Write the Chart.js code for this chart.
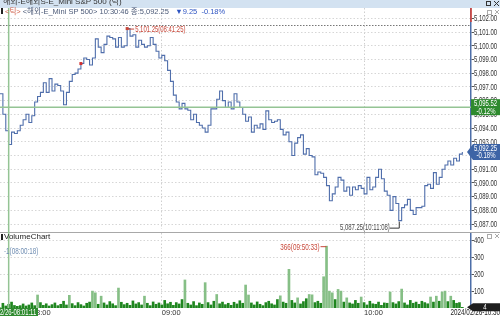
<!DOCTYPE html>
<html>
<head>
<meta charset="utf-8">
<script src="https://cdn.jsdelivr.net/npm/chart.js@4.4.1/dist/chart.umd.min.js"></script>
<style>
  html, body { margin: 0; padding: 0; background: #fff; }
  #wrap { position: relative; width: 500px; height: 316px; overflow: hidden; }
  #priceChart { position: absolute; left: 0; top: 0; }
  #volChart { position: absolute; left: 0; top: 232px; }
</style>
</head>
<body>
<div id="wrap">
  <canvas id="priceChart" width="500" height="232"></canvas>
  <canvas id="volChart" width="500" height="84"></canvas>
</div>
<script>
// tick prices (one sample every few ticks)
var prices = [
  5096.5, 5095.0, 5093.8, 5092.8, 5093.7, 5093.6, 5093.8, 5094.2, 5094.6, 5095.0,
  5094.4, 5094.9, 5095.9, 5096.3, 5096.6, 5097.3, 5096.6, 5097.6, 5096.7, 5097.2,
  5097.1, 5096.7, 5095.7, 5096.6, 5097.4, 5097.9, 5098.0, 5098.3, 5098.7, 5099.1,
  5099.0, 5098.6, 5099.1, 5100.5, 5099.9, 5099.5, 5100.1, 5100.7, 5100.6, 5100.5,
  5099.9,
  5100.6, 5099.9, 5100.0, 5101.25, 5100.7, 5100.8, 5099.9, 5100.4, 5100.1, 5099.9,
  5100.0, 5100.6, 5100.1, 5099.6, 5099.1, 5099.3, 5098.9, 5098.2, 5097.4, 5096.4,
  5095.9, 5095.4, 5095.8, 5095.4, 5095.3, 5094.6, 5095.0, 5094.4, 5094.2, 5094.0,
  5093.7, 5094.2, 5095.4, 5095.4, 5096.1, 5096.7, 5096.0, 5095.5, 5095.9, 5095.4,
  5096.5,
  5095.9, 5095.5, 5095.0, 5094.5, 5094.8, 5093.7, 5094.2, 5094.0, 5094.3, 5093.9,
  5095.25, 5094.6, 5094.4, 5094.5, 5094.6, 5093.9, 5093.5, 5093.7, 5093.0, 5092.0,
  5092.9, 5093.3, 5093.5, 5092.1, 5092.5, 5092.0, 5091.9, 5090.6, 5090.8, 5090.7,
  5090.4, 5089.8, 5088.7, 5089.2, 5089.7, 5090.4, 5090.2, 5089.4,
  5089.7, 5089.1, 5089.7, 5089.5, 5089.8, 5089.6, 5089.2, 5090.4, 5089.5, 5089.7,
  5090.4, 5091.0, 5090.3, 5089.4, 5089.1, 5088.0, 5089.0, 5088.5, 5087.25, 5088.2,
  5088.4, 5088.8, 5088.0, 5087.7, 5088.2, 5088.2, 5088.3, 5089.8, 5089.9, 5089.6,
  5090.75, 5089.9, 5090.4, 5091.0, 5091.3, 5091.6, 5091.3, 5091.8, 5091.6, 5092.1,
  5092.25
];

// volume per sample
var volumes = [
  1, 28, 12, 22, 35, 15, 10, 14, 24, 12,
  18, 30, 14, 77, 32, 16, 25, 12, 20, 30,
  14, 22, 40, 18, 75, 26, 14, 32, 20, 12,
  28, 35, 100, 90, 22, 70, 30, 18, 38, 25,
  14, 118, 34, 20, 28, 16, 42, 24, 32, 18,
  70, 28, 14, 36, 22, 30, 18, 45, 25, 34,
  16, 32, 24, 50, 166, 28, 18, 38, 14, 30,
  22, 150, 32, 18, 40, 80, 25, 35, 20, 28,
  16, 34, 24, 43, 28, 136, 77, 30, 18, 36,
  22, 14, 32, 40, 25, 18, 50, 72, 35, 28,
  229, 45, 30, 60, 24, 38, 55, 80, 78, 32,
  40, 28, 185, 366, 100, 90, 50, 110, 100, 35,
  60, 30, 24, 45, 28, 65, 32, 18, 40, 25,
  22, 35, 16, 30, 28, 95, 32, 24, 38, 112,
  30, 18, 45, 28, 35, 22, 40, 32, 25, 65,
  35, 70, 40, 95, 100, 38, 70, 45, 28, 32,
  4
];

var slotCount = 164;              // x slots, the last few still empty
var timeTickIdx = [11, 56, 126];
var timeTickText = ['08:00', '09:00', '10:00'];
var priceTicks = [5087, 5088, 5089, 5090, 5091, 5092, 5093, 5094, 5095, 5096, 5097, 5098, 5099, 5100, 5101, 5102];
var volTicks = [100, 200, 300, 400];

var prevClose = 5101.50;
var cursorIdx = 3;
var cursorPrice = 5095.52;
var cursorTime = '2/26-08:01:11';
var markIdx = 28;
var highTime = '08:41:25', lowTime = '10:11:08', volMaxTime = '09:50:33', volMinTime = '08:00:18';
var lastTime = '10:30:46';
var endStamp = '2024/02/26-10:30';

var FONT = "'Liberation Sans', 'Noto Sans CJK KR', sans-serif";

var slots = [];
for (var i = 0; i < slotCount; i++) slots.push(String(i));

function fmt(v) {
  return v.toLocaleString('en-US', {minimumFractionDigits: 2, maximumFractionDigits: 2});
}
function pct(v) {
  return ((v - prevClose) / prevClose * 100).toFixed(2) + '%';
}
// the HTS font is narrow, squeeze Liberation Sans to match
function narrowText(ctx, text, x, y, align, size) {
  ctx.save();
  ctx.font = (size || 8.5) + 'px ' + FONT;
  ctx.textBaseline = 'middle';
  ctx.textAlign = align;
  ctx.translate(x, y);
  ctx.scale(0.7, 1);
  ctx.fillText(text, 0, 0);
  ctx.restore();
}

var hiIdx = prices.indexOf(Math.max.apply(null, prices));
var loIdx = prices.indexOf(Math.min.apply(null, prices));
var vMaxIdx = volumes.indexOf(Math.max.apply(null, volumes));
var lastPrice = prices[prices.length - 1];

function timeAxisTicks(scale) {
  scale.ticks = timeTickIdx.map(function (v) { return {value: v}; });
}
function axisLabels(chart, fmtFn) {
  var ctx = chart.ctx, y = chart.scales.y, a = chart.chartArea;
  ctx.fillStyle = '#333';
  y.ticks.forEach(function (t) {
    narrowText(ctx, fmtFn(t.value), a.right + 3, y.getPixelForValue(t.value) + 0.5, 'left');
  });
}

var priceDecor = {
  id: 'priceDecor',
  beforeDatasetsDraw: function (chart) {
    var ctx = chart.ctx, a = chart.chartArea, y = chart.scales.y;
    ctx.save();
    ctx.strokeStyle = '#777';
    ctx.setLineDash([1.5, 1.5]);
    ctx.lineWidth = 1;
    var py = Math.round(y.getPixelForValue(prevClose)) + 0.5;
    ctx.beginPath(); ctx.moveTo(a.left, py); ctx.lineTo(a.right, py); ctx.stroke();
    ctx.restore();
  },
  afterDraw: function (chart) {
    var ctx = chart.ctx, a = chart.chartArea, x = chart.scales.x, y = chart.scales.y;
    ctx.save();
    axisLabels(chart, fmt);

    // crosshair
    ctx.strokeStyle = '#94c494';
    ctx.lineWidth = 1.5;
    var cx = x.getPixelForValue(cursorIdx), cy = y.getPixelForValue(cursorPrice);
    ctx.beginPath(); ctx.moveTo(cx, a.top); ctx.lineTo(cx, chart.height); ctx.stroke();
    ctx.beginPath(); ctx.moveTo(a.left, cy); ctx.lineTo(a.right, cy); ctx.stroke();

    // high
    var hx = x.getPixelForValue(hiIdx), hy = y.getPixelForValue(prices[hiIdx]);
    ctx.strokeStyle = '#c8483a'; ctx.fillStyle = '#c8483a'; ctx.lineWidth = 1;
    ctx.fillRect(hx - 1.5, hy - 1.5, 3, 3);
    ctx.beginPath(); ctx.moveTo(hx, hy + 0.5); ctx.lineTo(hx + 7, hy + 0.5); ctx.stroke();
    narrowText(ctx, fmt(prices[hiIdx]) + '(' + highTime + ')', hx + 8, hy + 1, 'left');

    // low
    var lx = x.getPixelForValue(loIdx), ly = y.getPixelForValue(prices[loIdx]);
    ctx.strokeStyle = '#333'; ctx.fillStyle = '#4a4a4a';
    ctx.beginPath(); ctx.moveTo(lx - 9, ly + 7.5); ctx.lineTo(lx + 0.5, ly + 7.5); ctx.lineTo(lx + 0.5, ly + 1); ctx.stroke();
    narrowText(ctx, fmt(prices[loIdx]) + '(' + lowTime + ')', lx - 9, ly + 7.5, 'right');

    // red marker
    ctx.fillStyle = '#d03030';
    ctx.fillRect(x.getPixelForValue(markIdx) - 1.5, y.getPixelForValue(prices[markIdx]) - 1.5, 3, 3);

    // red top of the axis
    ctx.strokeStyle = '#e04030'; ctx.lineWidth = 1.5;
    ctx.beginPath(); ctx.moveTo(a.right, a.top); ctx.lineTo(a.right, a.top + 14); ctx.stroke();

    // cursor price box
    ctx.fillStyle = '#2e8a2e';
    ctx.fillRect(a.right, cy - 8, chart.width - a.right, 16);
    ctx.fillStyle = '#fff';
    narrowText(ctx, fmt(cursorPrice), a.right + 3, cy - 3.5, 'left');
    narrowText(ctx, pct(cursorPrice), a.right + 15, cy + 4, 'center');

    // last price box
    var ly2 = y.getPixelForValue(lastPrice);
    ctx.fillStyle = '#3d64a6';
    ctx.beginPath();
    ctx.moveTo(a.right - 4, ly2); ctx.lineTo(a.right + 2, ly2 - 8); ctx.lineTo(chart.width, ly2 - 8);
    ctx.lineTo(chart.width, ly2 + 8); ctx.lineTo(a.right + 2, ly2 + 8); ctx.closePath(); ctx.fill();
    ctx.fillStyle = '#fff';
    narrowText(ctx, fmt(lastPrice), a.right + 3, ly2 - 3.5, 'left');
    narrowText(ctx, pct(lastPrice), a.right + 15, ly2 + 4, 'center');

    // title bar
    ctx.fillStyle = '#d3e2f1';
    ctx.fillRect(0, 0, chart.width, 8);
    ctx.save();
    ctx.beginPath(); ctx.rect(0, 0, chart.width, 8); ctx.clip();
    ctx.fillStyle = '#333'; ctx.font = '8px ' + FONT; ctx.textBaseline = 'alphabetic';
    ctx.fillText('해외-E해외S-E_Mini S&P 500 (틱)', 3, 4);
    ctx.restore();
    ctx.strokeStyle = '#333'; ctx.lineWidth = 1;
    ctx.strokeRect(486.5, 1.5, 4, 4);
    ctx.beginPath(); ctx.moveTo(494, 1); ctx.lineTo(499, 6); ctx.moveTo(499, 1); ctx.lineTo(494, 6); ctx.stroke();
    ctx.strokeStyle = '#aaa';
    ctx.strokeRect(487.5, 10.5, 4, 4);
    ctx.beginPath(); ctx.moveTo(495, 10); ctx.lineTo(499, 14); ctx.moveTo(499, 10); ctx.lineTo(495, 14); ctx.stroke();

    // info line
    ctx.fillStyle = '#222'; ctx.fillRect(1, 8, 2, 6);
    var parts = [
      ['<틱> ', '#d0604a'],
      ['<해외-E_Mini SP 500> ' + lastTime + ' 종:' + fmt(lastPrice) + '   ', '#4d5b78'],
      ['▼' + (prevClose - lastPrice).toFixed(2) + '  ' + pct(lastPrice), '#2f55c2']
    ];
    ctx.font = '7.5px ' + FONT; ctx.textBaseline = 'middle'; ctx.textAlign = 'left';
    var tx = 5;
    parts.forEach(function (p) {
      ctx.fillStyle = p[1];
      ctx.fillText(p[0], tx, 11.5);
      tx += ctx.measureText(p[0]).width;
    });
    ctx.restore();
  }
};

var volDecor = {
  id: 'volDecor',
  afterDraw: function (chart) {
    var ctx = chart.ctx, a = chart.chartArea, x = chart.scales.x, y = chart.scales.y;
    ctx.save();
    axisLabels(chart, String);
    ctx.strokeStyle = '#a8a8a8'; ctx.lineWidth = 1;
    ctx.beginPath(); ctx.moveTo(0, 0.5); ctx.lineTo(chart.width, 0.5); ctx.stroke();

    // crosshair
    ctx.strokeStyle = '#94c494'; ctx.lineWidth = 1.5;
    var cx = x.getPixelForValue(cursorIdx);
    ctx.beginPath(); ctx.moveTo(cx, 0); ctx.lineTo(cx, a.bottom); ctx.stroke();

    ctx.fillStyle = '#222'; ctx.fillRect(1, 2, 2, 6);
    ctx.font = '8px ' + FONT; ctx.textBaseline = 'middle'; ctx.textAlign = 'left';
    ctx.fillText('VolumeChart', 4, 5);

    // min volume note
    ctx.fillStyle = '#6f8db2';
    narrowText(ctx, '-' + volumes[0] + '(' + volMinTime + ')', 4, 20, 'left', 9);

    // max volume note
    var mx = x.getPixelForValue(vMaxIdx), my = y.getPixelForValue(volumes[vMaxIdx]);
    ctx.fillStyle = '#c8483a'; ctx.strokeStyle = '#c8483a'; ctx.lineWidth = 1;
    narrowText(ctx, volumes[vMaxIdx] + '(' + volMaxTime + ')', mx - 7, my + 1, 'right', 9);
    ctx.beginPath(); ctx.moveTo(mx - 6, my + 0.5); ctx.lineTo(mx, my + 0.5); ctx.stroke();

    // current volume box
    var vy = y.getPixelForValue(volumes[volumes.length - 1]);
    ctx.fillStyle = '#1e1e1e';
    ctx.beginPath();
    ctx.moveTo(a.right - 4, vy); ctx.lineTo(a.right + 2, vy - 4); ctx.lineTo(chart.width, vy - 4);
    ctx.lineTo(chart.width, vy + 4); ctx.lineTo(a.right + 2, vy + 4); ctx.closePath(); ctx.fill();
    ctx.fillStyle = '#fff';
    narrowText(ctx, String(volumes[volumes.length - 1]), a.right + 14, vy, 'center');

    // bottom stamps
    ctx.fillStyle = '#2e8a2e';
    ctx.fillRect(0, a.bottom, 38, chart.height - a.bottom);
    ctx.fillStyle = '#fff';
    narrowText(ctx, cursorTime, 0, a.bottom + 4.5, 'left');
    ctx.fillStyle = '#222';
    narrowText(ctx, endStamp, chart.width, a.bottom + 4.5, 'right', 9);

    ctx.strokeStyle = '#aaa';
    ctx.strokeRect(487.5, 2.5, 4, 4);
    ctx.beginPath(); ctx.moveTo(495, 2); ctx.lineTo(499, 6); ctx.moveTo(499, 2); ctx.lineTo(495, 6); ctx.stroke();
    ctx.restore();
  }
};

var gridColor = function (c) { return c.tick && c.tick.value === timeTickIdx[0] ? 'rgba(0,0,0,0)' : '#cfcfcf'; };

new Chart(document.getElementById('priceChart'), {
  type: 'line',
  data: {
    labels: slots,
    datasets: [{
      data: prices,
      borderColor: '#4f6eab',
      borderWidth: 1.1,
      stepped: true,
      pointRadius: 0,
      fill: false
    }]
  },
  options: {
    responsive: false,
    animation: false,
    events: [],
    layout: {padding: {left: 0, right: 0, top: 8, bottom: 3}},
    plugins: {legend: {display: false}, tooltip: {enabled: false}},
    scales: {
      x: {
        offset: false,
        afterBuildTicks: timeAxisTicks,
        ticks: {display: false},
        grid: {color: gridColor, drawTicks: false},
        border: {display: false, dash: [1.5, 2]}
      },
      y: {
        position: 'right',
        min: 5086.64,
        max: 5102.75,
        afterBuildTicks: function (s) { s.ticks = priceTicks.map(function (v) { return {value: v}; }); },
        afterFit: function (s) { s.width = 29; },
        ticks: {display: false},
        grid: {color: '#d6d6d6', tickColor: '#555', tickLength: 3, tickBorderDash: []},
        border: {color: '#4d6ea8', width: 1.5, dash: [1.5, 2]}
      }
    }
  },
  plugins: [priceDecor]
});

new Chart(document.getElementById('volChart'), {
  type: 'bar',
  data: {
    labels: slots,
    datasets: [{
      data: volumes,
      backgroundColor: volumes.map(function (v) { return v > 55 ? '#86bf86' : '#1f861f'; }),
      barThickness: 2,
      borderWidth: 0
    }]
  },
  options: {
    responsive: false,
    animation: false,
    events: [],
    layout: {padding: {left: 0, right: 0, top: 1, bottom: 0}},
    plugins: {legend: {display: false}, tooltip: {enabled: false}},
    scales: {
      x: {
        offset: false,
        afterBuildTicks: timeAxisTicks,
        afterFit: function (s) { s.height = 8; },
        ticks: {
          font: {family: FONT, size: 7.5},
          color: '#333',
          align: 'start',
          padding: 0,
          maxRotation: 0,
          autoSkip: false,
          callback: function (v) { return timeTickText[timeTickIdx.indexOf(v)]; }
        },
        grid: {color: gridColor, drawTicks: false, offset: false},
        border: {display: false, dash: [1.5, 2]}
      },
      y: {
        position: 'right',
        min: 0,
        max: 444,
        afterBuildTicks: function (s) { s.ticks = volTicks.map(function (v) { return {value: v}; }); },
        afterFit: function (s) { s.width = 29; },
        ticks: {display: false},
        grid: {color: '#d6d6d6', tickColor: '#555', tickLength: 3, tickBorderDash: []},
        border: {color: '#4d6ea8', width: 1.5, dash: [1.5, 2]}
      }
    }
  },
  plugins: [volDecor]
});
</script>
</body>
</html>
